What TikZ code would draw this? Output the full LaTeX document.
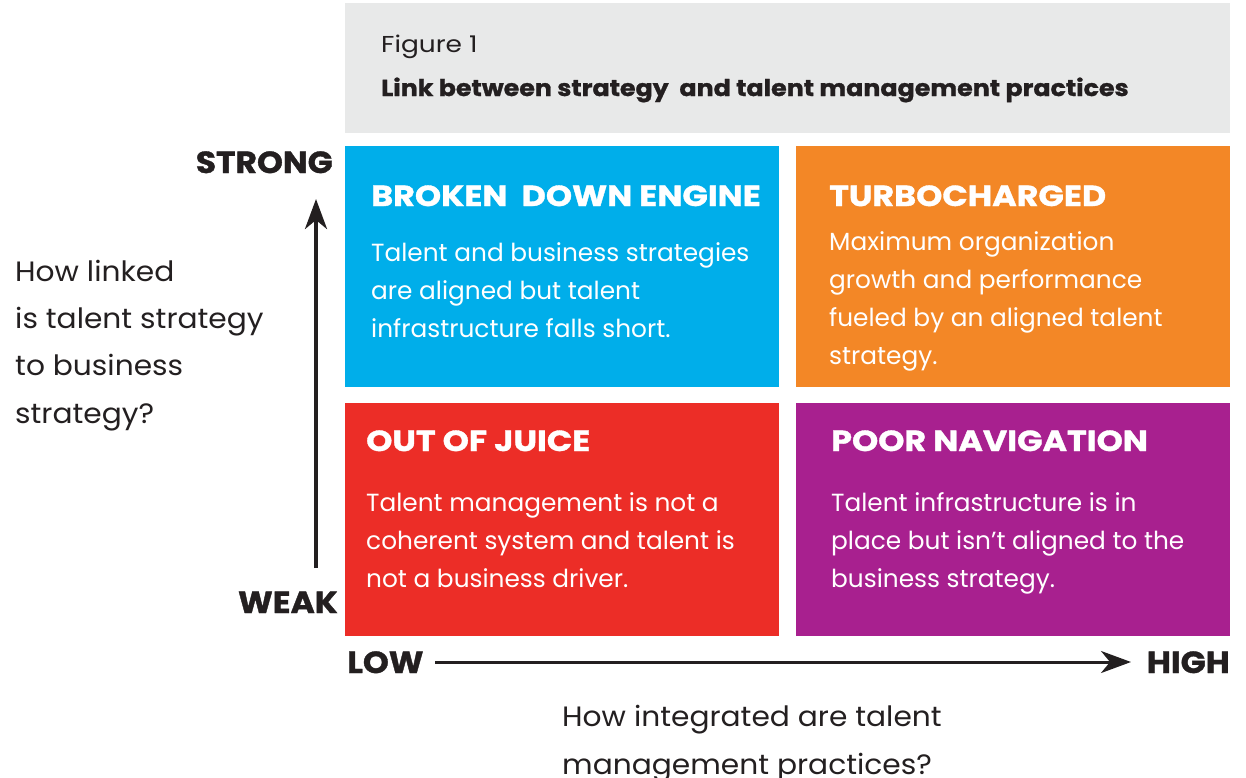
\documentclass[tikz,border=0pt]{standalone}
\usepackage{fontspec}
\setmainfont{Poppins}
\usetikzlibrary{arrows.meta}
\definecolor{hdr}{HTML}{E8E9E9}
\definecolor{qblue}{HTML}{00AEEA}
\definecolor{qorange}{HTML}{F38726}
\definecolor{qred}{HTML}{EC2D27}
\definecolor{qpurple}{HTML}{A8208F}
\definecolor{ink}{HTML}{231F20}
\tikzset{
  quad/.style={fill=#1, draw=none},
  qtitle/.style={anchor=base west, inner sep=0pt, text=white, font=\bfseries\fontsize{29}{32}\selectfont\addfontfeatures{FakeStretch=1.15,FakeBold=1.2}},
  qbody/.style={anchor=base west, inner sep=0pt, text=white, align=left, font=\fontsize{24.8}{37.7}\selectfont},
  axlab/.style={inner sep=0pt, text=ink, font=\bfseries\fontsize{30.5}{34}\selectfont\addfontfeatures{FakeStretch=1.08,FakeBold=1.2}},
  question/.style={anchor=base west, inner sep=0pt, text=ink, align=left, font=\fontsize{28}{47.3}\selectfont\addfontfeatures{FakeStretch=1.06}},
  axarrow/.style={draw=ink, -{Stealth[length=30pt, width=22pt, inset=9pt]}},
}
\begin{document}
\begin{tikzpicture}[x=1pt, y=-1pt]
\useasboundingbox (0,0) rectangle (1246,777);
% header
\fill[hdr] (345,3) rectangle (1230,133);
\node[anchor=base west, inner sep=0pt, text=ink, font=\fontsize{23}{26}\selectfont\addfontfeatures{FakeStretch=1.15}] (fig) at (381,52) {Figure 1};
\node[anchor=base west, inner sep=0pt, text=ink, font=\bfseries\fontsize{23}{26}\selectfont\addfontfeatures{FakeStretch=1.1,FakeBold=1.2}] (title) at (381,96) {Link between strategy\ \ and talent management practices};
% quadrants
\fill[quad=qblue] (345,146) rectangle (779,387);
\fill[quad=qorange] (796,146) rectangle (1230,387);
\fill[quad=qred] (345,403) rectangle (779,636);
\fill[quad=qpurple] (796,403) rectangle (1230,636);
\node[qtitle] (t1) at (371,206) {BROKEN\ \ DOWN ENGINE};
\node[qbody] (b1) at (371,337) {Talent and business strategies\\are aligned but talent\\infrastructure falls short.};
\node[qtitle] (t2) at (829,206) {TURBOCHARGED};
\node[qbody] (b2) at (829,364) {Maximum organization\\growth and performance\\fueled by an aligned talent\\strategy.};
\node[qtitle] (t3) at (366,451) {OUT OF JUICE};
\node[qbody] (b3) at (366,587) {Talent management is not a\\coherent system and talent is\\not a business driver.};
\node[qtitle] (t4) at (831,451) {POOR NAVIGATION};
\node[qbody] (b4) at (831,587) {Talent infrastructure is in\\place but isn’t aligned to the\\business strategy.};
% axes labels
\node[axlab, anchor=base east] (strong) at (333,173) {STRONG};
\node[axlab, anchor=base east] (weak) at (338,613) {WEAK};
\node[axlab, anchor=base west] (low) at (347,673) {LOW};
\node[axlab, anchor=base east] (high) at (1230,673) {HIGH};
\coordinate (vbot) at (316,568);
\coordinate (vtop) at (316,199);
\coordinate (hl) at (435,662);
\coordinate (hr) at (1131,662);
\draw[axarrow, line width=4pt] (vbot) -- (vtop);
\draw[axarrow, line width=3pt] (hl) -- (hr);
% questions
\node[question] (q1) at (15,423) {How linked\\is talent strategy\\to business\\strategy?};
\node[question] (q2) at (562,774) {How integrated are talent\\management practices?};
\end{tikzpicture}
\end{document}
